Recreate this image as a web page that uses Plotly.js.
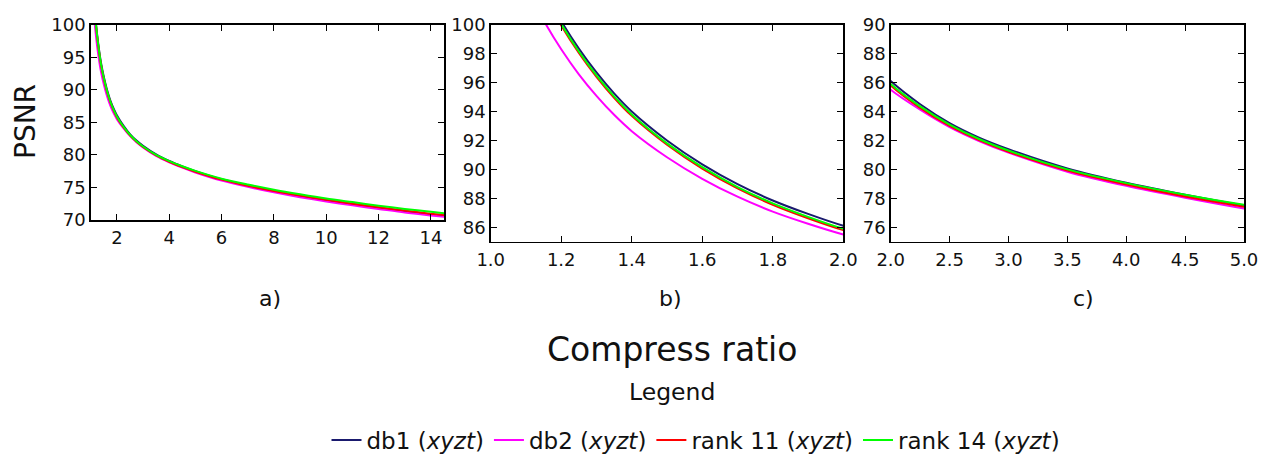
<!DOCTYPE html>
<html>
<head>
<meta charset="utf-8">
<script src="https://cdn.plot.ly/plotly-3.0.1.min.js"></script>
<style>html,body{margin:0;padding:0;background:#fff;}#chart{width:1261px;height:455px;}</style>
</head>
<body>
<div id="chart"></div>
<script>
// Compression ratio sample points
const ratio = [1.1, 1.15, 1.2, 1.25, 1.3, 1.35, 1.4, 1.5, 1.6, 1.7, 1.8, 1.9, 2.0, 2.25, 2.5, 2.75, 3.0, 3.5, 4.0, 4.5, 5.0, 6, 7, 8, 9, 10, 11, 12, 13, 14, 14.6];
// PSNR per series
const db1    = [105.0, 102.45, 100.25, 98.35, 96.7, 95.25, 94.0, 92.0, 90.35, 88.98, 87.85, 86.92, 86.1, 84.5, 83.2, 82.2, 81.4, 80.07, 79.07, 78.24, 77.5, 76.25, 75.3, 74.45, 73.7, 73.05, 72.45, 71.9, 71.35, 70.85, 70.55];
const db2    = [102.6, 100.3, 98.3, 96.57, 95.08, 93.77, 92.64, 90.84, 89.35, 88.11, 87.08, 86.24, 85.5, 84.12, 82.92, 81.96, 81.16, 79.84, 78.86, 78.04, 77.3, 76.05, 75.1, 74.25, 73.5, 72.85, 72.25, 71.7, 71.15, 70.7, 70.45];
const rank11 = [104.7, 102.15, 99.95, 98.05, 96.4, 94.95, 93.7, 91.7, 90.05, 88.68, 87.55, 86.62, 85.8, 84.25, 83.0, 82.02, 81.22, 79.92, 78.95, 78.12, 77.42, 76.2, 75.25, 74.45, 73.75, 73.1, 72.5, 71.95, 71.45, 70.95, 70.75];
const rank14 = [104.8, 102.25, 100.05, 98.15, 96.5, 95.05, 93.8, 91.8, 90.15, 88.78, 87.65, 86.72, 85.9, 84.35, 83.1, 82.1, 81.3, 80.0, 79.05, 78.25, 77.55, 76.35, 75.45, 74.65, 73.95, 73.3, 72.75, 72.2, 71.7, 71.25, 71.0];

const seriesNames = ['db1 (<i>xyzt</i>)', 'db2 (<i>xyzt</i>)', 'rank 11 (<i>xyzt</i>)', 'rank 14 (<i>xyzt</i>)'];
const seriesData = [db1, db2, rank11, rank14];
const seriesColors = ['#1a1a6e', '#ff00ff', '#ff0000', '#00ff00'];
const panelLabels = ['a)', 'b)', 'c)'];

const W = 1261, H = 455;
const px = v => v / W;
const py = v => (H - v) / H;

const axesIds = [['x', 'y'], ['x2', 'y2'], ['x3', 'y3']];
const traces = [];
axesIds.forEach((ax, p) => {
  seriesData.forEach((d, i) => {
    traces.push({
      type: 'scatter', mode: 'lines',
      x: ratio, y: d,
      name: seriesNames[i],
      legendgroup: 's' + i,
      showlegend: p === 0,
      line: {color: seriesColors[i], width: 2, shape: 'spline', smoothing: 0.8},
      xaxis: ax[0], yaxis: ax[1],
      hoverinfo: 'x+y'
    });
  });
});

const tickFont = {family: 'DejaVu Sans', size: 18, color: '#111'};
function axisBase(extra) {
  return Object.assign({
    showline: true, linecolor: '#000', linewidth: 1.5, mirror: 'ticks',
    ticks: 'inside', ticklen: 6, tickwidth: 1, tickcolor: '#000',
    showgrid: false, zeroline: false, tickfont: tickFont, fixedrange: true,
    automargin: false
  }, extra);
}

const annFont = size => ({family: 'DejaVu Sans', size: size, color: '#111'});

const layout = {
  width: W, height: H,
  margin: {l: 0, r: 0, t: 0, b: 0, pad: 0, autoexpand: false},
  paper_bgcolor: '#fff', plot_bgcolor: '#fff',
  font: {family: 'DejaVu Sans', color: '#111'},
  showlegend: true,
  legend: {
    orientation: 'h', x: px(696), xanchor: 'center', y: py(440), yanchor: 'middle',
    font: {family: 'DejaVu Sans', size: 23, color: '#111'},
    itemwidth: 30, tracegroupgap: 0
  },
  xaxis: axisBase({domain: [px(90.7), px(444)], range: [1.0, 14.5], dtick: 2, tick0: 0, anchor: 'y', ticklabelstandoff: 1}),
  yaxis: axisBase({domain: [py(220), py(24.7)], range: [70, 100], dtick: 5, tick0: 0, anchor: 'x'}),
  xaxis2: axisBase({domain: [px(490.7), px(843.3)], range: [1.0, 2.0], dtick: 0.2, tick0: 0, tickformat: '.1f', anchor: 'y2', ticklabelstandoff: 1}),
  yaxis2: axisBase({domain: [py(241.7), py(24.7)], range: [85, 100], dtick: 2, tick0: 0, anchor: 'x2'}),
  xaxis3: axisBase({domain: [px(890.7), px(1244)], range: [2.0, 5.0], dtick: 0.5, tick0: 0, tickformat: '.1f', anchor: 'y3', ticklabelstandoff: 1}),
  yaxis3: axisBase({domain: [py(241.7), py(24.7)], range: [75, 90], dtick: 2, tick0: 0, anchor: 'x3'}),
  annotations: [
    {text: 'PSNR', x: px(25), y: py(122), xref: 'paper', yref: 'paper', textangle: -90, showarrow: false,
     font: annFont(28), xanchor: 'center', yanchor: 'middle'},
    {text: panelLabels[0], x: px(270), y: py(298), xref: 'paper', yref: 'paper', showarrow: false,
     font: annFont(22), xanchor: 'center', yanchor: 'middle'},
    {text: panelLabels[1], x: px(670), y: py(298), xref: 'paper', yref: 'paper', showarrow: false,
     font: annFont(22), xanchor: 'center', yanchor: 'middle'},
    {text: panelLabels[2], x: px(1083), y: py(298), xref: 'paper', yref: 'paper', showarrow: false,
     font: annFont(22), xanchor: 'center', yanchor: 'middle'},
    {text: 'Compress ratio', x: px(672), y: py(350), xref: 'paper', yref: 'paper', showarrow: false,
     font: annFont(33), xanchor: 'center', yanchor: 'middle'},
    {text: 'Legend', x: px(672), y: py(392), xref: 'paper', yref: 'paper', showarrow: false,
     font: annFont(23.5), xanchor: 'center', yanchor: 'middle'}
  ]
};

Plotly.newPlot('chart', traces, layout, {displayModeBar: false, staticPlot: true});
</script>
</body>
</html>
